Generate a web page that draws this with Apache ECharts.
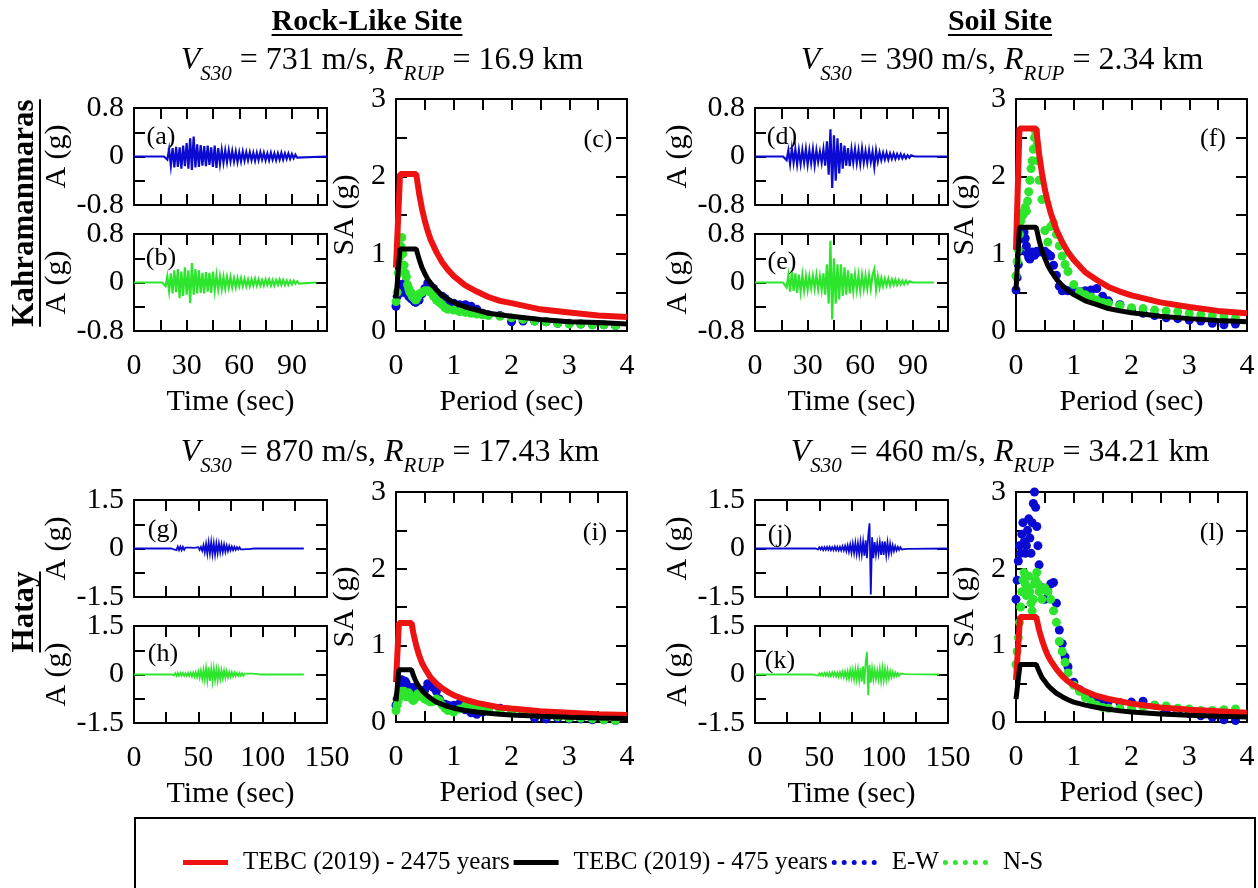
<!DOCTYPE html>
<html>
<head>
<meta charset="utf-8">
<title>Kahramanmaras / Hatay records</title>
<script src="https://cdn.jsdelivr.net/npm/echarts@6/dist/echarts.min.js"></script>
<style>
    html, body { margin: 0; padding: 0; background: #fff; }
    #chart { width: 1258px; height: 888px; }
</style>
</head>
<body>
<div id="chart"></div>
<script>
// ---- données ----
const stations = ['Kahramanmaras', 'Hatay'];
const sites = ['Rock-Like Site', 'Soil Site'];
const vs30 = ['731', '390', '870', '460'];
const rrup = ['16.9', '2.34', '17.43', '34.21'];
const seriesNames = ['TEBC (2019) - 2475 years', 'TEBC (2019) - 475 years', 'E-W', 'N-S'];

// accélérogrammes, pas de 1 s à partir de recStart (a, b, d, e, g, h, j, k)
const recStart = [18, 17, 17, 17, 30, 30, 48, 46];
const recEnd = [110, 104, 110, 102, 132, 132, 150, 143];
const accA = [0.02,-0.05,0.12,-0.15,0.14,-0.18,0.16,-0.17,0.15,-0.2,0.18,-0.16,0.22,-0.2,0.3,-0.22,0.33,-0.18,0.2,-0.17,0.19,-0.15,0.17,-0.16,0.18,-0.14,0.15,-0.17,0.18,-0.19,0.14,-0.12,0.11,-0.1,0.1,-0.09,0.1,-0.08,0.09,-0.08,0.08,-0.09,0.07,-0.08,0.08,-0.07,0.07,-0.06,0.07,-0.06,0.06,-0.07,0.06,-0.06,0.07,-0.05,0.06,-0.06,0.05,-0.06,0.06,-0.05,0.05,-0.06,0.05,-0.05,0.06,-0.05,0.05,-0.04,0.05,-0.04,0.04,-0.03,0.03,-0.02];
const accB = [0.02,-0.06,0.1,-0.14,0.15,-0.18,0.2,-0.16,0.22,-0.26,0.18,-0.22,0.25,-0.2,0.2,-0.34,0.32,-0.2,0.22,-0.18,0.2,-0.17,0.16,-0.18,0.17,-0.15,0.16,-0.17,0.18,-0.13,0.12,-0.11,0.1,-0.11,0.09,-0.1,0.09,-0.08,0.09,-0.08,0.07,-0.08,0.07,-0.06,0.07,-0.06,0.06,-0.06,0.05,-0.06,0.05,-0.05,0.06,-0.05,0.05,-0.05,0.04,-0.05,0.05,-0.04,0.05,-0.05,0.04,-0.05,0.04,-0.04,0.05,-0.04,0.04,-0.04,0.03,-0.04,0.03,-0.03,0.03,-0.02,0.02,-0.02];
const accD = [0.02,-0.06,0.1,-0.12,0.13,-0.1,0.12,-0.13,0.1,-0.12,0.11,-0.1,0.12,-0.13,0.1,-0.11,0.12,-0.14,0.1,-0.09,0.08,-0.1,0.12,-0.15,0.25,-0.3,0.45,-0.52,0.35,-0.4,0.3,-0.28,0.22,-0.2,0.18,-0.15,0.14,-0.16,0.12,-0.1,0.12,-0.11,0.1,-0.12,0.13,-0.1,0.09,-0.1,0.1,-0.09,0.08,-0.17,0.1,-0.08,0.07,-0.06,0.06,-0.05,0.06,-0.05,0.05,-0.04,0.05,-0.04,0.04,-0.03,0.04,-0.03,0.03,-0.03,0.02,-0.02,0.02,-0.01];
const accE = [0.02,-0.08,0.12,-0.15,0.17,-0.14,0.15,-0.17,0.13,-0.15,0.12,-0.13,0.1,-0.12,0.1,-0.09,0.11,-0.1,0.12,-0.11,0.1,-0.12,0.15,-0.2,0.3,-0.35,0.69,-0.61,0.4,-0.35,0.3,-0.28,0.3,-0.22,0.25,-0.2,0.2,-0.18,0.15,-0.14,0.13,-0.12,0.12,-0.13,0.12,-0.1,0.11,-0.1,0.12,-0.1,0.13,0.22,-0.12,0.1,-0.08,0.07,-0.06,0.06,-0.05,0.06,-0.05,0.05,-0.04,0.05,-0.04,0.04,-0.03,0.03,-0.03,0.03,-0.02,0.02,-0.01];
const accG = [0.02,-0.03,0.03,-0.05,0.06,-0.05,0.06,-0.05,0.05,-0.04,0.03,-0.03,0.03,-0.02,0.03,-0.03,0.02,-0.03,0.03,-0.03,0.04,-0.04,0.05,-0.07,0.1,-0.12,0.14,-0.16,0.18,-0.15,0.2,-0.17,0.16,-0.18,0.15,-0.14,0.15,-0.12,0.13,-0.11,0.12,-0.1,0.09,-0.08,0.08,-0.06,0.06,-0.05,0.05,-0.04,0.04,-0.03,0.04,-0.03,0.03,-0.03,0.02,-0.02,0.02,-0.02,0.02,-0.01,0.01];
const accH = [0.02,-0.03,0.04,-0.04,0.05,-0.04,0.05,-0.04,0.05,-0.04,0.04,-0.04,0.05,-0.05,0.05,-0.06,0.06,-0.07,0.07,-0.08,0.09,-0.1,0.12,-0.13,0.15,-0.16,0.2,-0.18,0.22,-0.2,0.18,-0.21,0.19,-0.17,0.16,-0.18,0.15,-0.14,0.13,-0.12,0.12,-0.1,0.1,-0.09,0.08,-0.07,0.07,-0.06,0.06,-0.05,0.05,-0.04,0.05,-0.04,0.04,-0.04,0.03,-0.03,0.03,-0.03,0.03,-0.02,0.03,-0.02,0.02,-0.02,0.02,-0.01];
const accJ = [0.02,-0.03,0.04,-0.03,0.04,-0.05,0.04,-0.04,0.05,-0.04,0.05,-0.05,0.04,-0.05,0.06,-0.05,0.05,-0.06,0.05,-0.06,0.07,-0.06,0.08,-0.08,0.1,-0.1,0.12,-0.13,0.15,-0.14,0.17,-0.16,0.15,-0.18,0.2,-0.17,0.2,-0.22,0.25,-0.3,0.4,0.78,-1.42,0.35,-0.3,0.2,-0.18,0.15,-0.16,0.18,-0.2,0.22,-0.2,0.21,-0.2,0.18,-0.16,0.14,-0.12,0.1,-0.08,0.07,-0.06,0.05,-0.04,0.04,-0.03,0.03,-0.02,0.02,-0.01];
const accK = [0.02,-0.02,0.03,-0.03,0.04,-0.03,0.04,-0.04,0.05,-0.04,0.05,-0.05,0.05,-0.05,0.06,-0.05,0.06,-0.06,0.06,-0.07,0.07,-0.07,0.08,-0.08,0.09,-0.1,0.1,-0.12,0.13,-0.12,0.14,-0.15,0.16,-0.15,0.17,-0.18,0.2,-0.22,0.25,-0.3,0.4,0.7,-0.64,0.3,-0.25,0.18,-0.15,0.14,-0.13,0.12,-0.15,0.17,-0.2,0.19,-0.18,0.17,-0.16,0.14,-0.12,0.1,-0.09,0.08,-0.07,0.06,-0.05,0.04,-0.04,0.03,-0.03,0.02,-0.02,0.01];

// spectres TEBC (périodes des coins + décroissance)
const tebcT_c = [0,0.07,0.35,0.4,0.45,0.5,0.55,0.6,0.7,0.8,0.9,1.0,1.2,1.4,1.6,1.8,2.0,2.5,3.0,3.5,4.0];
const tebc2475_c = [0.82,2.03,2.03,1.78,1.58,1.42,1.29,1.18,1.02,0.89,0.79,0.71,0.59,0.51,0.44,0.39,0.36,0.28,0.24,0.2,0.18];
const tebc475_c = [0.42,1.06,1.06,0.93,0.82,0.74,0.67,0.62,0.53,0.46,0.41,0.37,0.31,0.27,0.23,0.21,0.19,0.15,0.12,0.11,0.09];
const tebcT_f = [0,0.06,0.35,0.4,0.45,0.5,0.55,0.6,0.7,0.8,0.9,1.0,1.2,1.4,1.6,1.8,2.0,2.5,3.0,3.5,4.0];
const tebc2475_f = [1.05,2.62,2.62,2.29,2.04,1.83,1.67,1.53,1.31,1.15,1.02,0.92,0.76,0.66,0.57,0.51,0.46,0.37,0.31,0.26,0.23];
const tebc475_f = [0.53,1.34,1.34,1.17,1.04,0.94,0.85,0.78,0.67,0.59,0.52,0.47,0.39,0.34,0.29,0.26,0.235,0.19,0.16,0.135,0.12];
const tebcT_i = [0,0.05,0.27,0.3,0.35,0.4,0.45,0.5,0.6,0.7,0.8,0.9,1.0,1.2,1.4,1.6,1.8,2.0,2.5,3.0,3.5,4.0];
const tebc2475_i = [0.52,1.29,1.29,1.16,1.0,0.87,0.77,0.7,0.58,0.5,0.44,0.39,0.35,0.29,0.25,0.22,0.19,0.175,0.14,0.12,0.1,0.09];
const tebc475_i = [0.27,0.68,0.68,0.61,0.52,0.46,0.41,0.37,0.31,0.26,0.23,0.2,0.18,0.15,0.13,0.115,0.1,0.092,0.074,0.061,0.053,0.046];
const tebcT_l = [0,0.07,0.35,0.4,0.45,0.5,0.55,0.6,0.7,0.8,0.9,1.0,1.2,1.4,1.6,1.8,2.0,2.5,3.0,3.5,4.0];
const tebc2475_l = [0.55,1.37,1.37,1.2,1.07,0.96,0.87,0.8,0.69,0.6,0.53,0.48,0.4,0.34,0.3,0.27,0.24,0.19,0.16,0.14,0.12];
const tebc475_l = [0.3,0.75,0.75,0.66,0.58,0.53,0.48,0.44,0.375,0.33,0.29,0.26,0.22,0.19,0.165,0.145,0.13,0.105,0.088,0.075,0.066];

// spectres mesurés (même grille de périodes pour tous)
const periods = [0,0.02,0.04,0.06,0.08,0.1,0.12,0.14,0.16,0.18,0.2,0.22,0.24,0.26,0.28,0.3,0.32,0.34,0.36,0.38,0.4,
    0.45,0.5,0.55,0.6,0.65,0.7,0.75,0.8,0.85,0.9,1.0,1.1,1.2,1.3,1.4,1.5,1.6,1.8,2.0,2.2,2.4,2.6,2.8,3.0,3.2,3.4,3.6,3.8];
const saC_EW = [0.32,0.45,1.1,0.85,0.6,0.5,0.55,0.5,0.62,0.58,0.5,0.45,0.48,0.42,0.44,0.4,0.38,0.37,0.4,0.42,0.4,
    0.48,0.55,0.62,0.58,0.55,0.5,0.46,0.45,0.42,0.38,0.36,0.34,0.34,0.32,0.28,0.23,0.21,0.2,0.12,0.13,0.13,0.12,0.1,0.1,0.09,0.08,0.08,0.07];
const saC_NS = [0.38,0.5,0.75,0.95,1.1,1.21,1.0,0.85,0.75,0.7,0.6,0.55,0.5,0.5,0.45,0.44,0.42,0.4,0.42,0.45,0.48,
    0.5,0.52,0.52,0.5,0.45,0.4,0.37,0.34,0.3,0.28,0.27,0.25,0.24,0.23,0.22,0.21,0.2,0.19,0.17,0.15,0.13,0.12,0.1,0.09,0.09,0.08,0.08,0.07];
const saF_EW = [0.53,0.69,0.86,1.03,1.19,1.25,1.3,1.28,1.2,1.1,1.0,0.95,0.93,0.98,1.02,1.0,0.98,1.0,1.03,1.02,1.03,
    1.02,1.03,1.0,0.97,0.85,0.72,0.58,0.52,0.53,0.52,0.51,0.51,0.52,0.53,0.55,0.45,0.39,0.34,0.27,0.23,0.2,0.17,0.16,0.14,0.13,0.1,0.08,0.09];
const saF_NS = [0.71,0.9,1.05,1.25,1.42,1.48,1.5,1.55,1.6,1.55,1.68,1.8,1.95,2.1,2.2,2.35,2.5,2.58,2.4,2.2,1.95,
    1.7,1.3,1.15,1.35,1.4,1.25,1.1,0.97,0.86,0.77,0.6,0.51,0.47,0.44,0.4,0.37,0.36,0.33,0.3,0.29,0.27,0.26,0.25,0.23,0.21,0.2,0.19,0.17];
const saI_EW = [0.22,0.3,0.35,0.42,0.5,0.55,0.52,0.5,0.53,0.5,0.45,0.42,0.4,0.42,0.45,0.42,0.4,0.38,0.37,0.38,0.4,
    0.38,0.42,0.5,0.48,0.45,0.4,0.3,0.24,0.23,0.22,0.22,0.24,0.16,0.12,0.1,0.13,0.17,0.18,0.13,0.11,0.05,0.04,0.05,0.04,0.04,0.03,0.03,0.02];
const saI_NS = [0.15,0.22,0.28,0.33,0.38,0.4,0.39,0.4,0.35,0.33,0.36,0.38,0.35,0.32,0.3,0.28,0.3,0.32,0.34,0.37,0.36,
    0.33,0.3,0.28,0.26,0.27,0.3,0.28,0.22,0.18,0.15,0.13,0.17,0.21,0.2,0.18,0.17,0.16,0.14,0.12,0.12,0.1,0.09,0.07,0.05,0.05,0.04,0.03,0.02];
const saL_EW = [1.6,1.85,2.1,2.3,2.2,2.45,2.6,2.35,2.2,2.3,2.5,2.65,2.4,2.2,2.6,2.85,3.0,2.8,2.55,2.3,2.05,
    1.75,1.6,1.7,1.8,1.82,1.55,1.2,1.02,0.85,0.72,0.52,0.42,0.36,0.33,0.31,0.28,0.27,0.25,0.26,0.27,0.22,0.15,0.13,0.11,0.08,0.06,0.03,0.02];
const saL_NS = [0.75,0.92,1.1,1.3,1.5,1.7,1.85,1.95,1.8,1.65,1.75,1.9,1.7,1.55,1.45,1.6,1.8,1.85,1.95,1.8,1.7,
    1.6,1.75,1.7,1.6,1.45,1.3,1.05,0.92,0.78,0.64,0.48,0.4,0.32,0.26,0.22,0.19,0.18,0.18,0.18,0.2,0.22,0.21,0.18,0.17,0.15,0.15,0.16,0.17];

// ---- mise en forme ----
const FONT = 'Liberation Serif';
const BLUE = '#0a0ad2';
const GREEN = '#2ee52e';
const RED = '#ee1313';
const BLACK = '#000000';

let chart;

window.onload = init;

function recordPoints(t0, vals, tEnd) {
    let pts = [[0, 0], [t0 - 1, 0]];
    vals.forEach((v, i) => pts.push([t0 + i, v]));
    pts.push([t0 + vals.length, 0], [tEnd, 0]);
    return pts;
}

function pairs(xs, ys) {
    return xs.map((x, i) => [x, ys[i]]);
}

function near(a, b) {
    return Math.abs(a - b) < 1e-6;
}

const axisLine = { show: true, onZero: false, lineStyle: { color: '#000', width: 2 } };
const axisTick = { show: true, inside: true, length: 11, lineStyle: { color: '#000', width: 2 } };
const labelFont = { fontFamily: FONT, fontSize: 30, color: '#000' };

// paire d'axes (bas/haut ou gauche/droite) pour une grille
function axisPair(dim, gridIndex, range, labels) {
    let first = dim === 'x' ? 'bottom' : 'left';
    let second = dim === 'x' ? 'top' : 'right';
    let base = {
        gridIndex: gridIndex,
        type: 'value',
        min: range.min,
        max: range.max,
        interval: range.interval,
        axisLine: axisLine,
        axisTick: axisTick,
        splitLine: { show: false }
    };
    let main = Object.assign({}, base, {
        position: first,
        axisLabel: Object.assign({
            show: labels.show,
            margin: dim === 'x' ? 20 : 10,
            formatter: range.formatter
        }, labelFont),
        name: labels.name || '',
        nameLocation: 'middle',
        nameGap: labels.nameGap,
        nameTextStyle: labelFont
    });
    let mirror = Object.assign({}, base, {
        position: second,
        axisLabel: { show: false }
    });
    return [main, mirror];
}

const timeRow1 = { min: 0, max: 110, interval: 15, formatter: v => (v % 30 === 0 ? String(v) : '') };
const timeRow2 = { min: 0, max: 150, interval: 25, formatter: v => (v % 50 === 0 ? String(v) : '') };
const accRow1 = { min: -0.8, max: 0.8, interval: 0.4,
    formatter: v => (near(v, 0) ? '0' : (near(Math.abs(v), 0.8) ? v.toFixed(1) : '')) };
const accRow2 = { min: -1.5, max: 1.5, interval: 0.75,
    formatter: v => (near(v, 0) ? '0' : (near(Math.abs(v), 1.5) ? v.toFixed(1) : '')) };
const periodAxis = { min: 0, max: 4, interval: 0.5,
    formatter: v => (near(v, Math.round(v)) ? String(Math.round(v)) : '') };
const saAxis = { min: 0, max: 3, interval: 0.5,
    formatter: v => (near(v, Math.round(v)) ? String(Math.round(v)) : '') };

function init() {
    chart = echarts.init(document.getElementById('chart'), null, { renderer: 'canvas' });

    // [gauche, haut, largeur, hauteur]
    const accPanels = [
        { tag: '(a)', box: [134, 108, 193, 97], row: 1, data: accA, i: 0, color: BLUE, lab: [161, 137] },
        { tag: '(b)', box: [134, 234, 193, 97], row: 1, data: accB, i: 1, color: GREEN, lab: [161, 258], bottom: true },
        { tag: '(d)', box: [755, 108, 193, 97], row: 1, data: accD, i: 2, color: BLUE, lab: [782, 137] },
        { tag: '(e)', box: [755, 234, 193, 97], row: 1, data: accE, i: 3, color: GREEN, lab: [782, 262], bottom: true },
        { tag: '(g)', box: [134, 500, 193, 97], row: 2, data: accG, i: 4, color: BLUE, lab: [163, 530] },
        { tag: '(h)', box: [134, 626, 193, 97], row: 2, data: accH, i: 5, color: GREEN, lab: [163, 654], bottom: true },
        { tag: '(j)', box: [755, 500, 193, 97], row: 2, data: accJ, i: 6, color: BLUE, lab: [780, 535] },
        { tag: '(k)', box: [755, 626, 193, 97], row: 2, data: accK, i: 7, color: GREEN, lab: [780, 661], bottom: true }
    ];
    const saPanels = [
        { tag: '(c)', box: [396, 99, 231, 232], T: tebcT_c, red: tebc2475_c, black: tebc475_c, ew: saC_EW, ns: saC_NS, lab: [598, 140] },
        { tag: '(f)', box: [1016, 99, 231, 232], T: tebcT_f, red: tebc2475_f, black: tebc475_f, ew: saF_EW, ns: saF_NS, lab: [1213, 139] },
        { tag: '(i)', box: [396, 492, 231, 230], T: tebcT_i, red: tebc2475_i, black: tebc475_i, ew: saI_EW, ns: saI_NS, lab: [595, 533] },
        { tag: '(l)', box: [1016, 492, 231, 230], T: tebcT_l, red: tebc2475_l, black: tebc475_l, ew: saL_EW, ns: saL_NS, lab: [1212, 533] }
    ];

    let grid = [], xAxis = [], yAxis = [], series = [], graphic = [];

    function addGrid(box) {
        grid.push({ left: box[0], top: box[1], width: box[2], height: box[3], containLabel: false });
        return grid.length - 1;
    }

    function panelTag(p) {
        graphic.push({
            type: 'text', x: p.lab[0], y: p.lab[1], silent: true,
            style: { text: p.tag, fontFamily: FONT, fontSize: 26, fill: '#000', align: 'center', verticalAlign: 'middle' }
        });
    }

    accPanels.forEach(p => {
        let g = addGrid(p.box);
        let xa = axisPair('x', g, p.row === 1 ? timeRow1 : timeRow2,
            { show: !!p.bottom, name: p.bottom ? 'Time (sec)' : '', nameGap: 56 });
        let ya = axisPair('y', g, p.row === 1 ? accRow1 : accRow2, { show: true, name: 'A (g)', nameGap: 60 });
        let xi = xAxis.length, yi = yAxis.length;
        xAxis.push(...xa);
        yAxis.push(...ya);
        series.push({
            type: 'line',
            xAxisIndex: xi, yAxisIndex: yi,
            data: recordPoints(recStart[p.i], p.data, recEnd[p.i]),
            showSymbol: false, symbol: 'none',
            color: p.color,
            lineStyle: { color: p.color, width: p.row === 1 ? 2.2 : 1.8, join: 'miter' },
            silent: true
        });
        panelTag(p);
    });

    saPanels.forEach(p => {
        let g = addGrid(p.box);
        let xa = axisPair('x', g, periodAxis, { show: true, name: 'Period (sec)', nameGap: 56 });
        let ya = axisPair('y', g, saAxis, { show: true, name: 'SA (g)', nameGap: 36 });
        let xi = xAxis.length, yi = yAxis.length;
        xAxis.push(...xa);
        yAxis.push(...ya);
        series.push(
            { name: seriesNames[0], type: 'line', xAxisIndex: xi, yAxisIndex: yi, data: pairs(p.T, p.red),
              symbol: 'none', color: RED, lineStyle: { color: RED, width: 6 } },
            { name: seriesNames[1], type: 'line', xAxisIndex: xi, yAxisIndex: yi, data: pairs(p.T, p.black),
              symbol: 'none', color: BLACK, lineStyle: { color: BLACK, width: 5 } },
            { name: seriesNames[2], type: 'scatter', xAxisIndex: xi, yAxisIndex: yi, data: pairs(periods, p.ew),
              symbolSize: 9, color: BLUE, itemStyle: { color: BLUE, opacity: 1 } },
            { name: seriesNames[3], type: 'scatter', xAxisIndex: xi, yAxisIndex: yi, data: pairs(periods, p.ns),
              symbolSize: 9, color: GREEN, itemStyle: { color: GREEN, opacity: 1 } }
        );
        panelTag(p);
    });

    // titres de colonnes (gras souligné)
    const ctx = document.createElement('canvas').getContext('2d');
    function textWidth(str, font) {
        ctx.font = font;
        return ctx.measureText(str).width;
    }

    [[sites[0], 367], [sites[1], 1000]].forEach(([txt, cx]) => {
        let w = textWidth(txt, 'bold 30px "' + FONT + '"');
        graphic.push(
            { type: 'text', x: cx, y: 22, silent: true,
              style: { text: txt, fontFamily: FONT, fontSize: 30, fontWeight: 'bold', fill: '#000', align: 'center', verticalAlign: 'middle' } },
            { type: 'line', silent: true, shape: { x1: cx - w / 2, y1: 35, x2: cx + w / 2, y2: 35 },
              style: { stroke: '#000', lineWidth: 2 } }
        );
    });

    // noms des stations (verticaux)
    [[stations[0], 213], [stations[1], 612]].forEach(([txt, cy]) => {
        let w = textWidth(txt, 'bold 31px "' + FONT + '"');
        graphic.push(
            { type: 'text', x: 25, y: cy, rotation: Math.PI / 2, silent: true,
              style: { text: txt, fontFamily: FONT, fontSize: 31, fontWeight: 'bold', fill: '#000', align: 'center', verticalAlign: 'middle' } },
            { type: 'line', silent: true, shape: { x1: 40, y1: cy - w / 2, x2: 40, y2: cy + w / 2 },
              style: { stroke: '#000', lineWidth: 2 } }
        );
    });

    // VS30 / RRUP
    const titlePos = [[382, 61], [1002, 61], [390, 453], [1000, 453]];
    titlePos.forEach(([cx, cy], k) => {
        graphic.push({
            type: 'text', x: cx, y: cy, silent: true,
            style: {
                text: '{i|V}{s|S30}{n| = ' + vs30[k] + ' m/s, }{i|R}{s|RUP}{n| = ' + rrup[k] + ' km}',
                fontFamily: FONT, fontSize: 32, fill: '#000', align: 'center', verticalAlign: 'middle',
                rich: {
                    i: { fontFamily: FONT, fontSize: 32, fontStyle: 'italic' },
                    s: { fontFamily: FONT, fontSize: 21, fontStyle: 'italic', padding: [27, 0, 0, 0] },
                    n: { fontFamily: FONT, fontSize: 32 }
                }
            }
        });
    });

    // cadre de la légende
    graphic.push({
        type: 'rect', silent: true,
        shape: { x: 135, y: 818, width: 1120, height: 90 },
        style: { fill: 'none', stroke: '#000', lineWidth: 2 }
    });

    const dots = 'path://M0,2.5a2.5,2.5 0 1,0 5,0a2.5,2.5 0 1,0 -5,0Z' +
        'M10,2.5a2.5,2.5 0 1,0 5,0a2.5,2.5 0 1,0 -5,0Z' +
        'M20,2.5a2.5,2.5 0 1,0 5,0a2.5,2.5 0 1,0 -5,0Z' +
        'M30,2.5a2.5,2.5 0 1,0 5,0a2.5,2.5 0 1,0 -5,0Z' +
        'M40,2.5a2.5,2.5 0 1,0 5,0a2.5,2.5 0 1,0 -5,0Z';

    let options = {
        animation: false,
        backgroundColor: '#fff',
        textStyle: { fontFamily: FONT },
        legend: {
            left: 178,
            top: 845,
            itemWidth: 45,
            itemHeight: 5,
            itemGap: 4,
            selectedMode: false,
            textStyle: { fontFamily: FONT, fontSize: 25, color: '#000', padding: [0, 0, 0, 10] },
            data: [
                { name: seriesNames[0], icon: 'rect' },
                { name: seriesNames[1], icon: 'rect' },
                { name: seriesNames[2], icon: dots },
                { name: seriesNames[3], icon: dots }
            ]
        },
        grid: grid,
        xAxis: xAxis,
        yAxis: yAxis,
        series: series,
        graphic: graphic
    };

    chart.setOption(options);
}
</script>
</body>
</html>
